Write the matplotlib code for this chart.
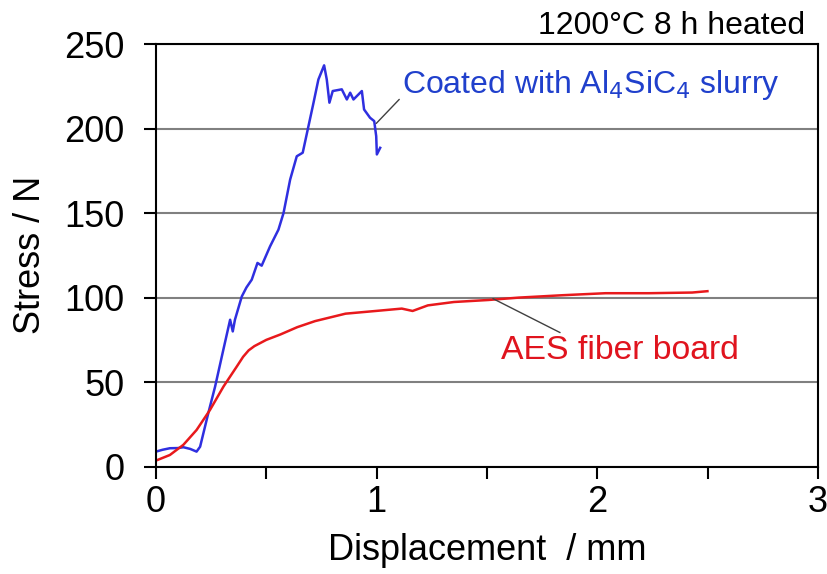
import numpy as np
import matplotlib
matplotlib.use("Agg")
import matplotlib.pyplot as plt
from matplotlib.ticker import MultipleLocator

plt.rcParams['font.family'] = ['Liberation Sans', 'DejaVu Sans']

# coated sample (Al4SiC4 slurry)
x_coated = [0.0, 0.03, 0.063, 0.1, 0.124, 0.155, 0.184, 0.2, 0.237, 0.268, 0.305, 0.336, 0.348, 0.358,
            0.389, 0.41, 0.434, 0.46, 0.479, 0.517, 0.555, 0.578, 0.608, 0.638, 0.665,
            0.691, 0.714, 0.736, 0.762, 0.774, 0.786, 0.801, 0.842, 0.865, 0.88,
            0.895, 0.933, 0.943, 0.97, 0.989, 0.998, 1.001, 1.016]
y_coated = [8.9, 10.0, 10.9, 11.0, 11.5, 10.5, 8.9, 11.8, 31.6, 47.4, 69.0, 86.9, 80.0, 87.0,
            100.7, 106.0, 110.6, 120.5, 118.9, 130.3, 140.2, 150.0, 169.8, 183.6, 185.7,
            201.4, 215.3, 229.0, 237.4, 229.0, 215.3, 222.2, 223.2, 217.2, 221.2,
            217.2, 222.2, 211.3, 206.4, 204.4, 195.5, 184.7, 188.6]

# AES fiber board
x_aes = [0.0, 0.063, 0.124, 0.184, 0.245, 0.306, 0.366, 0.395, 0.42, 0.446, 0.5, 0.564,
         0.64, 0.721, 0.859, 0.996, 1.114, 1.163, 1.232, 1.35, 1.507, 1.644, 1.841,
         2.037, 2.234, 2.43, 2.499]
y_aes = [3.6, 6.9, 12.9, 21.7, 33.6, 47.4, 59.2, 65.0, 68.8, 71.3, 75.0, 78.2,
         82.5, 86.1, 90.5, 92.1, 93.5, 92.1, 95.4, 97.4, 98.6, 100.0, 101.4,
         102.6, 102.6, 103.0, 103.8]

fig = plt.figure(figsize=(8.27, 5.74), dpi=100)
ax = fig.add_axes([0.1886, 0.187, 0.8005, 0.7363])

ax.plot(x_coated, y_coated, color='#2f2fe0', lw=1.8)
ax.plot(x_aes, y_aes, color='#e8191c', lw=1.8)

ax.set_xlim(0, 3)
ax.set_ylim(0, 250)
ax.xaxis.set_major_locator(MultipleLocator(1))
ax.xaxis.set_minor_locator(MultipleLocator(0.5))
ax.yaxis.set_major_locator(MultipleLocator(50))
ax.yaxis.grid(True, color='#808080', lw=1.5)
ax.set_axisbelow(True)

for s in ax.spines.values():
    s.set_linewidth(1.5)
ax.tick_params(which='both', direction='out', width=1.5, length=8.5, labelsize=26)
ax.tick_params(axis='y', pad=14)
ax.tick_params(axis='x', pad=5)

ax.set_xlabel('Displacement  / mm', fontsize=26, labelpad=9)
ax.set_ylabel('Stress / N', fontsize=26, labelpad=12)

ax.annotate('Coated with Al$_4$SiC$_4$ slurry', xy=(0.998, 203), xytext=(1.115, 226),
            color='#2040cc', fontsize=23, va='center', ha='left',
            arrowprops=dict(arrowstyle='-', color='#404040', lw=1,
                            shrinkA=0, shrinkB=0, relpos=(0, 0.15)))
ax.annotate('AES fiber board', xy=(1.527, 99.4), xytext=(1.565, 68.5),
            color='#e0141e', fontsize=24.3, va='center', ha='left',
            arrowprops=dict(arrowstyle='-', color='#404040', lw=1,
                            shrinkA=0, shrinkB=0, relpos=(0.27, 1.0)))

fig.text(0.973, 0.955, '1200°C 8 h heated', fontsize=23, ha='right', va='center')

fig.savefig('out.png', dpi=100)
